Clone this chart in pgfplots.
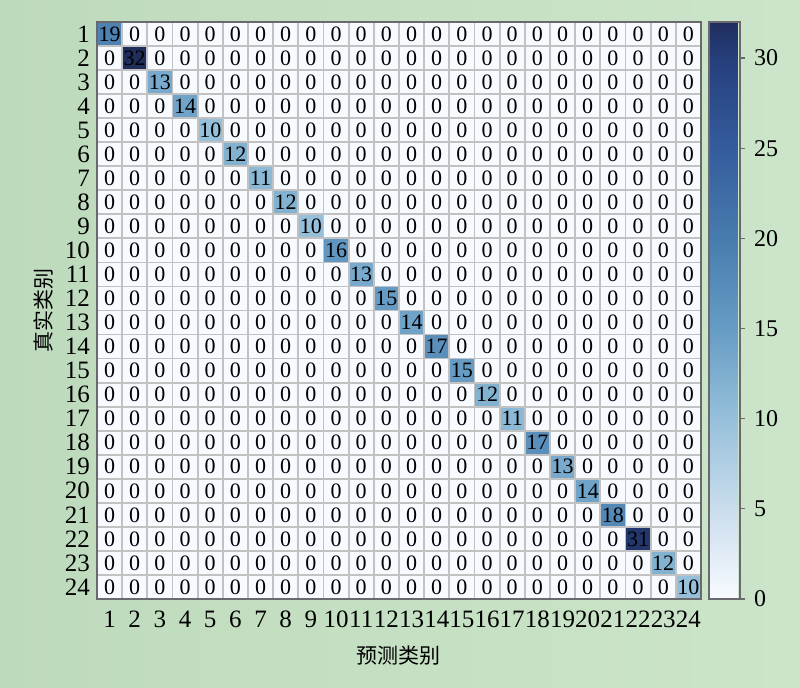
\documentclass[border=0pt]{standalone}
\usepackage{fontspec}
\setmainfont{Liberation Serif}
\newfontfamily\cjk{Noto Sans CJK SC}
\usepackage{pgfplots}
\pgfplotsset{compat=1.18}
\pgfplotsset{/pgf/number format/assume math mode=true}
\definecolor{bgA}{RGB}{190,218,188}
\definecolor{bgB}{RGB}{204,229,202}
\definecolor{framec}{RGB}{105,105,110}
\begin{document}
\begin{tikzpicture}
\shade[left color=bgA, right color=bgB] (0pt,0pt) rectangle (400pt,344pt);
\useasboundingbox (0pt,0pt) rectangle (400pt,344pt);
\begin{axis}[
  at={(48.5pt,44.5pt)}, anchor=south west,
  scale only axis, width=302pt, height=288.5pt,
  xmin=0.5, xmax=24.5, ymin=0.5, ymax=24.5, y dir=reverse,
  xtick={1,...,24}, ytick={1,...,24},
  major tick length=0pt, minor tick length=0pt,
  minor xtick={0.5,1.5,...,24.5}, minor ytick={0.5,1.5,...,24.5},
  xminorgrids, yminorgrids,
  minor grid style={draw=black!24, line width=0.9pt},
  axis on top,
  axis line style={draw=framec, line width=0.9pt},
  colormap={conf}{rgb255(0cm)=(247,251,255) rgb255(5cm)=(202,221,237) rgb255(10cm)=(150,192,218) rgb255(15cm)=(102,156,196) rgb255(20cm)=(72,124,174) rgb255(25cm)=(52,92,156) rgb255(30cm)=(38,62,124) rgb255(32cm)=(32,46,92)},
  point meta min=0, point meta max=32,
  tick label style={font=\fontsize{12.5}{12.5}\selectfont},
  xticklabel style={yshift=-2.5pt},
  xlabel={\cjk 预测类别}, ylabel={\cjk 真实类别},
  xlabel style={font=\fontsize{10.5}{10.5}\selectfont, yshift=-2pt},
  ylabel style={font=\fontsize{10.5}{10.5}\selectfont, yshift=-1pt},
  colorbar,
  colorbar style={
    width=15.5pt, at={(parent axis.north east)}, anchor=north west, xshift=-4.5pt,
    ytick={0,5,...,30}, ytick pos=right, yticklabel pos=right,
    tick align=outside, major tick length=2.5pt,
    tick style={draw=framec, line width=0.6pt},
    axis line style={draw=framec, line width=0.9pt},
    yticklabel style={font=\fontsize{12}{12}\selectfont, xshift=1pt},
  },
  nodes near coords={\pgfmathprintnumber[fixed,precision=0]{\pgfplotspointmeta}},
  nodes near coords style={font=\fontsize{11}{11}\selectfont, anchor=center, inner sep=0pt, text=black},
]
\addplot[matrix plot*, mesh/cols=24, point meta=explicit] table[x=x, y=y, meta=c, row sep=\\] {
x y c\\
1 1 19\\2 1 0\\3 1 0\\4 1 0\\5 1 0\\6 1 0\\7 1 0\\8 1 0\\9 1 0\\10 1 0\\11 1 0\\12 1 0\\13 1 0\\14 1 0\\15 1 0\\16 1 0\\17 1 0\\18 1 0\\19 1 0\\20 1 0\\21 1 0\\22 1 0\\23 1 0\\24 1 0\\
1 2 0\\2 2 32\\3 2 0\\4 2 0\\5 2 0\\6 2 0\\7 2 0\\8 2 0\\9 2 0\\10 2 0\\11 2 0\\12 2 0\\13 2 0\\14 2 0\\15 2 0\\16 2 0\\17 2 0\\18 2 0\\19 2 0\\20 2 0\\21 2 0\\22 2 0\\23 2 0\\24 2 0\\
1 3 0\\2 3 0\\3 3 13\\4 3 0\\5 3 0\\6 3 0\\7 3 0\\8 3 0\\9 3 0\\10 3 0\\11 3 0\\12 3 0\\13 3 0\\14 3 0\\15 3 0\\16 3 0\\17 3 0\\18 3 0\\19 3 0\\20 3 0\\21 3 0\\22 3 0\\23 3 0\\24 3 0\\
1 4 0\\2 4 0\\3 4 0\\4 4 14\\5 4 0\\6 4 0\\7 4 0\\8 4 0\\9 4 0\\10 4 0\\11 4 0\\12 4 0\\13 4 0\\14 4 0\\15 4 0\\16 4 0\\17 4 0\\18 4 0\\19 4 0\\20 4 0\\21 4 0\\22 4 0\\23 4 0\\24 4 0\\
1 5 0\\2 5 0\\3 5 0\\4 5 0\\5 5 10\\6 5 0\\7 5 0\\8 5 0\\9 5 0\\10 5 0\\11 5 0\\12 5 0\\13 5 0\\14 5 0\\15 5 0\\16 5 0\\17 5 0\\18 5 0\\19 5 0\\20 5 0\\21 5 0\\22 5 0\\23 5 0\\24 5 0\\
1 6 0\\2 6 0\\3 6 0\\4 6 0\\5 6 0\\6 6 12\\7 6 0\\8 6 0\\9 6 0\\10 6 0\\11 6 0\\12 6 0\\13 6 0\\14 6 0\\15 6 0\\16 6 0\\17 6 0\\18 6 0\\19 6 0\\20 6 0\\21 6 0\\22 6 0\\23 6 0\\24 6 0\\
1 7 0\\2 7 0\\3 7 0\\4 7 0\\5 7 0\\6 7 0\\7 7 11\\8 7 0\\9 7 0\\10 7 0\\11 7 0\\12 7 0\\13 7 0\\14 7 0\\15 7 0\\16 7 0\\17 7 0\\18 7 0\\19 7 0\\20 7 0\\21 7 0\\22 7 0\\23 7 0\\24 7 0\\
1 8 0\\2 8 0\\3 8 0\\4 8 0\\5 8 0\\6 8 0\\7 8 0\\8 8 12\\9 8 0\\10 8 0\\11 8 0\\12 8 0\\13 8 0\\14 8 0\\15 8 0\\16 8 0\\17 8 0\\18 8 0\\19 8 0\\20 8 0\\21 8 0\\22 8 0\\23 8 0\\24 8 0\\
1 9 0\\2 9 0\\3 9 0\\4 9 0\\5 9 0\\6 9 0\\7 9 0\\8 9 0\\9 9 10\\10 9 0\\11 9 0\\12 9 0\\13 9 0\\14 9 0\\15 9 0\\16 9 0\\17 9 0\\18 9 0\\19 9 0\\20 9 0\\21 9 0\\22 9 0\\23 9 0\\24 9 0\\
1 10 0\\2 10 0\\3 10 0\\4 10 0\\5 10 0\\6 10 0\\7 10 0\\8 10 0\\9 10 0\\10 10 16\\11 10 0\\12 10 0\\13 10 0\\14 10 0\\15 10 0\\16 10 0\\17 10 0\\18 10 0\\19 10 0\\20 10 0\\21 10 0\\22 10 0\\23 10 0\\24 10 0\\
1 11 0\\2 11 0\\3 11 0\\4 11 0\\5 11 0\\6 11 0\\7 11 0\\8 11 0\\9 11 0\\10 11 0\\11 11 13\\12 11 0\\13 11 0\\14 11 0\\15 11 0\\16 11 0\\17 11 0\\18 11 0\\19 11 0\\20 11 0\\21 11 0\\22 11 0\\23 11 0\\24 11 0\\
1 12 0\\2 12 0\\3 12 0\\4 12 0\\5 12 0\\6 12 0\\7 12 0\\8 12 0\\9 12 0\\10 12 0\\11 12 0\\12 12 15\\13 12 0\\14 12 0\\15 12 0\\16 12 0\\17 12 0\\18 12 0\\19 12 0\\20 12 0\\21 12 0\\22 12 0\\23 12 0\\24 12 0\\
1 13 0\\2 13 0\\3 13 0\\4 13 0\\5 13 0\\6 13 0\\7 13 0\\8 13 0\\9 13 0\\10 13 0\\11 13 0\\12 13 0\\13 13 14\\14 13 0\\15 13 0\\16 13 0\\17 13 0\\18 13 0\\19 13 0\\20 13 0\\21 13 0\\22 13 0\\23 13 0\\24 13 0\\
1 14 0\\2 14 0\\3 14 0\\4 14 0\\5 14 0\\6 14 0\\7 14 0\\8 14 0\\9 14 0\\10 14 0\\11 14 0\\12 14 0\\13 14 0\\14 14 17\\15 14 0\\16 14 0\\17 14 0\\18 14 0\\19 14 0\\20 14 0\\21 14 0\\22 14 0\\23 14 0\\24 14 0\\
1 15 0\\2 15 0\\3 15 0\\4 15 0\\5 15 0\\6 15 0\\7 15 0\\8 15 0\\9 15 0\\10 15 0\\11 15 0\\12 15 0\\13 15 0\\14 15 0\\15 15 15\\16 15 0\\17 15 0\\18 15 0\\19 15 0\\20 15 0\\21 15 0\\22 15 0\\23 15 0\\24 15 0\\
1 16 0\\2 16 0\\3 16 0\\4 16 0\\5 16 0\\6 16 0\\7 16 0\\8 16 0\\9 16 0\\10 16 0\\11 16 0\\12 16 0\\13 16 0\\14 16 0\\15 16 0\\16 16 12\\17 16 0\\18 16 0\\19 16 0\\20 16 0\\21 16 0\\22 16 0\\23 16 0\\24 16 0\\
1 17 0\\2 17 0\\3 17 0\\4 17 0\\5 17 0\\6 17 0\\7 17 0\\8 17 0\\9 17 0\\10 17 0\\11 17 0\\12 17 0\\13 17 0\\14 17 0\\15 17 0\\16 17 0\\17 17 11\\18 17 0\\19 17 0\\20 17 0\\21 17 0\\22 17 0\\23 17 0\\24 17 0\\
1 18 0\\2 18 0\\3 18 0\\4 18 0\\5 18 0\\6 18 0\\7 18 0\\8 18 0\\9 18 0\\10 18 0\\11 18 0\\12 18 0\\13 18 0\\14 18 0\\15 18 0\\16 18 0\\17 18 0\\18 18 17\\19 18 0\\20 18 0\\21 18 0\\22 18 0\\23 18 0\\24 18 0\\
1 19 0\\2 19 0\\3 19 0\\4 19 0\\5 19 0\\6 19 0\\7 19 0\\8 19 0\\9 19 0\\10 19 0\\11 19 0\\12 19 0\\13 19 0\\14 19 0\\15 19 0\\16 19 0\\17 19 0\\18 19 0\\19 19 13\\20 19 0\\21 19 0\\22 19 0\\23 19 0\\24 19 0\\
1 20 0\\2 20 0\\3 20 0\\4 20 0\\5 20 0\\6 20 0\\7 20 0\\8 20 0\\9 20 0\\10 20 0\\11 20 0\\12 20 0\\13 20 0\\14 20 0\\15 20 0\\16 20 0\\17 20 0\\18 20 0\\19 20 0\\20 20 14\\21 20 0\\22 20 0\\23 20 0\\24 20 0\\
1 21 0\\2 21 0\\3 21 0\\4 21 0\\5 21 0\\6 21 0\\7 21 0\\8 21 0\\9 21 0\\10 21 0\\11 21 0\\12 21 0\\13 21 0\\14 21 0\\15 21 0\\16 21 0\\17 21 0\\18 21 0\\19 21 0\\20 21 0\\21 21 18\\22 21 0\\23 21 0\\24 21 0\\
1 22 0\\2 22 0\\3 22 0\\4 22 0\\5 22 0\\6 22 0\\7 22 0\\8 22 0\\9 22 0\\10 22 0\\11 22 0\\12 22 0\\13 22 0\\14 22 0\\15 22 0\\16 22 0\\17 22 0\\18 22 0\\19 22 0\\20 22 0\\21 22 0\\22 22 31\\23 22 0\\24 22 0\\
1 23 0\\2 23 0\\3 23 0\\4 23 0\\5 23 0\\6 23 0\\7 23 0\\8 23 0\\9 23 0\\10 23 0\\11 23 0\\12 23 0\\13 23 0\\14 23 0\\15 23 0\\16 23 0\\17 23 0\\18 23 0\\19 23 0\\20 23 0\\21 23 0\\22 23 0\\23 23 12\\24 23 0\\
1 24 0\\2 24 0\\3 24 0\\4 24 0\\5 24 0\\6 24 0\\7 24 0\\8 24 0\\9 24 0\\10 24 0\\11 24 0\\12 24 0\\13 24 0\\14 24 0\\15 24 0\\16 24 0\\17 24 0\\18 24 0\\19 24 0\\20 24 0\\21 24 0\\22 24 0\\23 24 0\\24 24 10\\
};
\end{axis}
\end{tikzpicture}
\end{document}
